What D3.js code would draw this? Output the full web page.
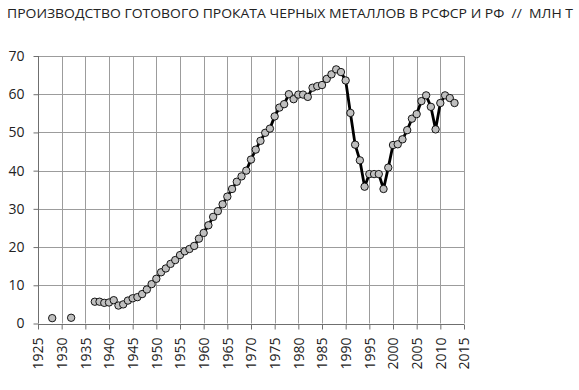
<!DOCTYPE html>
<html>
<head>
<meta charset="utf-8">
<script src="https://cdn.jsdelivr.net/npm/d3@7"></script>
<style>
  body { margin: 0; background: #fff; }
  svg { display: block; }
  .axis text { font-family: "Open Sans", sans-serif; font-size: 14px; fill: #222; }
</style>
</head>
<body>
<svg id="chart" width="579" height="390"></svg>
<script>
// Years and production (million tonnes); null = no data
const years = d3.range(1928, 2014);
const values = [
  1.4, null, null, null, 1.5, null, null, null, null,        // 1928-1936
  5.7, 5.7, 5.4, 5.5, 6.1, 4.7, 5.0, 6.0, 6.6, 6.9,          // 1937-1946
  7.7, 8.9, 10.3, 11.7, 13.4, 14.4, 15.6, 16.6, 17.9, 18.9,  // 1947-1956
  19.5, 20.3, 22.2, 23.7, 25.7, 27.9, 29.4, 31.2, 33.2, 35.2,// 1957-1966
  37.1, 38.5, 40.0, 42.9, 45.5, 47.8, 49.9, 51.0, 54.2, 56.5,// 1967-1976
  57.4, 60.0, 58.7, 59.9, 59.9, 59.3, 61.7, 62.1, 62.4, 64.0,// 1977-1986
  65.2, 66.5, 65.8, 63.6, 55.1, 46.8, 42.7, 35.8, 39.1, 39.1,// 1987-1996
  39.1, 35.2, 40.8, 46.7, 46.9, 48.2, 50.6, 53.6, 54.8, 58.2,// 1997-2006
  59.7, 56.7, 50.8, 57.7, 59.7, 59.0, 57.7                   // 2007-2013
];
const xTicks = d3.range(1925, 2016, 5);
const yTicks = d3.range(0, 71, 10);
const title = "ПРОИЗВОДСТВО ГОТОВОГО ПРОКАТА ЧЕРНЫХ МЕТАЛЛОВ В РСФСР И РФ  //  МЛН Т";

const data = years.map((y, i) => ({ year: y, value: values[i] }));

const svg = d3.select('#chart');
const margin = { left: 38, right: 115, top: 56, bottom: 66 };
const width = 579, height = 390;

const x = d3.scaleLinear().domain([1925, 2015]).range([margin.left, width - margin.right]);
const y = d3.scaleLinear().domain([0, 70]).range([height - margin.bottom - 0.5, margin.top]);

// Title
svg.append('text')
  .attr('x', 7).attr('y', 18)
  .attr('font-family', '"Open Sans", sans-serif')
  .attr('font-size', 13)
  .attr('fill', '#222')
  .attr('textLength', 566)
  .attr('lengthAdjust', 'spacingAndGlyphs')
  .style('white-space', 'pre')
  .text(title);

// Gridlines
svg.append('g')
  .selectAll('line.h')
  .data(yTicks.slice(1))
  .join('line')
  .attr('x1', x(1925)).attr('x2', x(2015))
  .attr('y1', d => Math.round(y(d)) + 0.5).attr('y2', d => Math.round(y(d)) + 0.5)
  .attr('stroke', '#9c9c9c').attr('stroke-width', 1);

svg.append('g')
  .selectAll('line.v')
  .data(xTicks.slice(1))
  .join('line')
  .attr('x1', d => Math.round(x(d)) + 0.5).attr('x2', d => Math.round(x(d)) + 0.5)
  .attr('y1', y(0)).attr('y2', y(70))
  .attr('stroke', '#9c9c9c').attr('stroke-width', 1);

// Y axis
const yAxis = svg.append('g')
  .attr('class', 'axis')
  .attr('transform', `translate(${Math.round(x(1925)) + 0.5},0)`)
  .call(d3.axisLeft(y).tickValues(yTicks).tickSize(5).tickPadding(9).tickFormat(d3.format('d')));
yAxis.selectAll('path, line').attr('stroke', '#6f6f6f');
yAxis.select('.domain').attr('d', `M0,${y(70)}V${y(0)}`);

// X axis
const xAxis = svg.append('g')
  .attr('class', 'axis')
  .attr('transform', `translate(0,${Math.round(y(0)) + 0.5})`)
  .call(d3.axisBottom(x).tickValues(xTicks).tickSize(5).tickFormat(d3.format('d')));
xAxis.selectAll('path, line').attr('stroke', '#6f6f6f');
xAxis.select('.domain').attr('d', `M${x(1925)},0H${x(2015)}`);
xAxis.selectAll('text')
  .attr('transform', 'rotate(-90)')
  .attr('text-anchor', 'end')
  .attr('x', -13)
  .attr('y', 0)
  .attr('dy', '0.35em');

// Line
const line = d3.line()
  .defined(d => d.value !== null)
  .x(d => x(d.year))
  .y(d => y(d.value));

svg.append('path')
  .datum(data)
  .attr('fill', 'none')
  .attr('stroke', '#000')
  .attr('stroke-width', 2.8)
  .attr('stroke-linejoin', 'round')
  .attr('d', line);

// Markers
svg.append('g')
  .selectAll('circle')
  .data(data.filter(d => d.value !== null))
  .join('circle')
  .attr('cx', d => x(d.year))
  .attr('cy', d => y(d.value))
  .attr('r', 3.7)
  .attr('fill', '#bfbfbf')
  .attr('stroke', '#000')
  .attr('stroke-width', 0.9);
</script>
</body>
</html>
